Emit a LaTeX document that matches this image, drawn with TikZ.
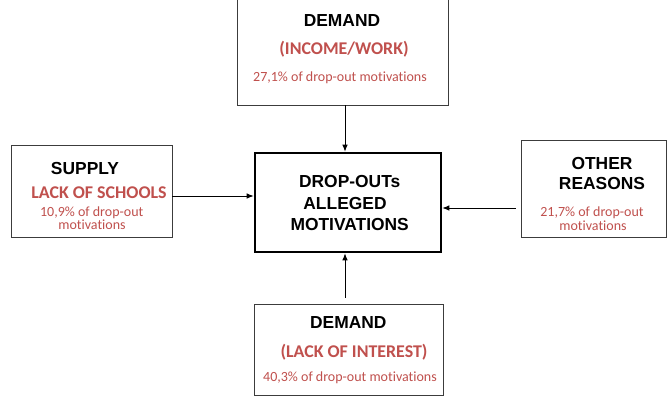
\documentclass[tikz,border=0pt]{standalone}
\usepackage{fontspec}
\setmainfont{Liberation Sans}
\newfontfamily\calib[Ligatures=NoCommon]{Carlito}
\usetikzlibrary{arrows.meta}
\definecolor{redtxt}{RGB}{192,80,77}
\definecolor{boxline}{RGB}{60,60,60}
\begin{document}
\begin{tikzpicture}[x=1pt,y=-1pt,
  box/.style={draw=boxline,line width=0.9pt,inner sep=0pt},
  midbox/.style={draw=black,line width=2.6pt,inner sep=0pt},
  ttl/.style={font=\bfseries\fontsize{17.4}{20}\selectfont, anchor=base, inner sep=0pt},
  sub/.style={font=\calib\bfseries\fontsize{17.9}{20}\selectfont, text=redtxt, anchor=base, inner sep=0pt},
  pct/.style={font=\calib\fontsize{14}{16}\selectfont, text=redtxt, anchor=base, inner sep=0pt},
  arr/.style={-{Latex[length=7pt,width=5.5pt]}, line width=0.9pt}]
\fill[white] (0,0) rectangle (667,397);
\useasboundingbox (0,0) rectangle (667,397);

% boxes
\node[box, minimum width=211pt, minimum height=108pt] (topbox) at (342.5,51) {};
\node[box, minimum width=161pt, minimum height=92pt] (leftbox) at (91.5,191) {};
\node[box, minimum width=145pt, minimum height=97pt] (rightbox) at (593.5,188.5) {};
\node[midbox, minimum width=186pt, minimum height=99pt] (mid) at (348,202.5) {};
\node[box, minimum width=189pt, minimum height=91pt] (botbox) at (348.5,349.5) {};

% top texts
\node[ttl] (t1) at (342,26.7) {DEMAND};
\node[sub] (t2) at (344,54.3) {(INCOME/WORK)};
\node[pct] (t3) at (340,81.5) {27,1\% of drop-out motivations};

% left texts
\node[ttl] (l1) at (85,174) {SUPPLY};
\node[sub] (l2) at (99,198.3) {LACK OF SCHOOLS};
\node[pct] (l3) at (91.7,216) {10,9\% of drop-out};
\node[pct] (l4) at (92,229.5) {motivations};

% right texts
\node[ttl] (r1) at (602,169) {OTHER};
\node[ttl] (r2) at (602,189.3) {REASONS};
\node[pct] (r3) at (592,216) {21,7\% of drop-out};
\node[pct] (r4) at (593,230) {motivations};

% center texts
\node[ttl] (m1) at (349.7,187.3) {DROP-OUTs};
\node[ttl] (m2) at (345,209) {ALLEGED};
\node[ttl] (m3) at (349.7,230) {MOTIVATIONS};

% bottom texts
\node[ttl] (b1) at (348.3,328.3) {DEMAND};
\node[sub] (b2) at (354,357) {(LACK OF INTEREST)};
\node[pct] (b3) at (350,381.7) {40,3\% of drop-out motivations};

% connectors
\coordinate (ax) at (345,0);
\coordinate (ly) at (0,196);
\coordinate (ry) at (0,208);
\draw[arr] (topbox.south -| ax) -- (mid.north -| ax);
\draw[arr] (leftbox.east |- ly) -- (mid.west |- ly);
\draw[arr, shorten <=5pt] (rightbox.west |- ry) -- (mid.east |- ry);
\draw[arr, shorten <=6pt] (botbox.north -| ax) -- (mid.south -| ax);
\end{tikzpicture}
\end{document}
